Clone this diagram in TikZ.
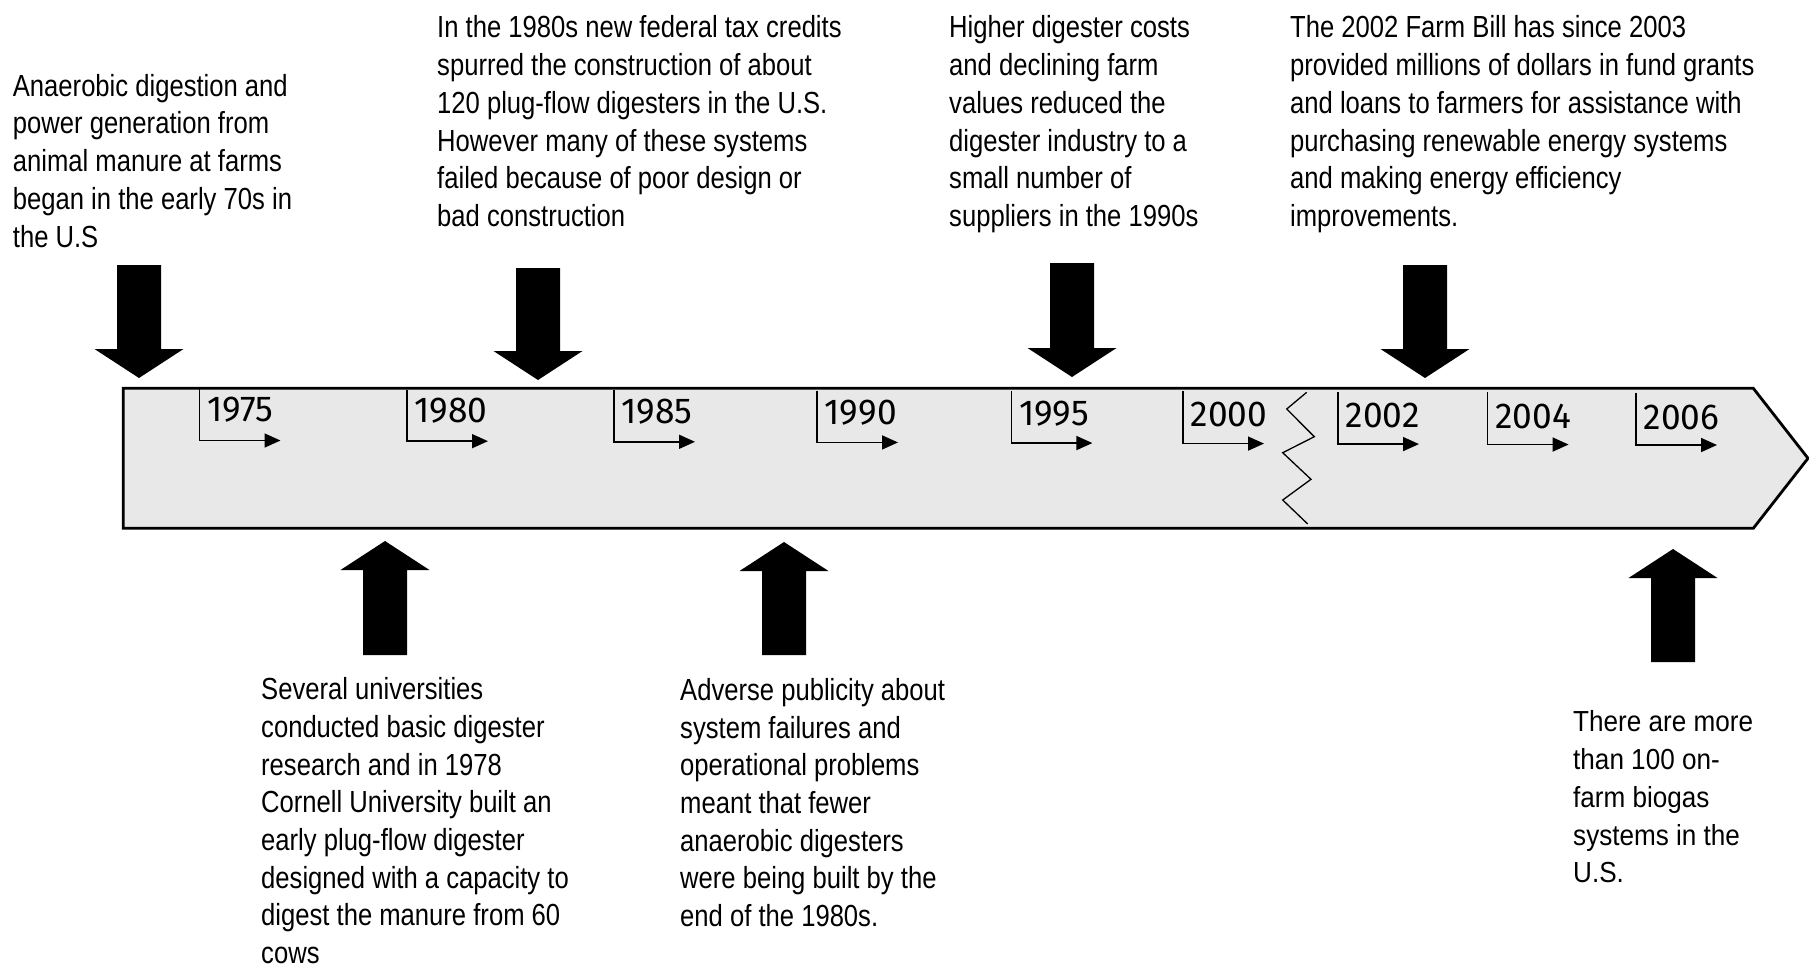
\documentclass[tikz,border=0pt]{standalone}
\usepackage{fontspec}
\setmainfont{Liberation Sans}
\newfontfamily\narrowfont[FakeStretch=0.84]{Liberation Sans}
\newfontfamily\widefont[FakeStretch=0.9]{Liberation Sans}
\newfontfamily\yearfont[FakeStretch=0.98]{Fira Sans}
\usetikzlibrary{arrows.meta}
\definecolor{bandgray}{RGB}{232,232,232}
\newcommand\topstrut{\rule{0pt}{26pt}}
\newcommand\blockarrow[4]{%
  \pgfmathsetmacro\hb{#3+29*sign(#2-#3)}%
  \coordinate (#4-tail) at (#1,#2);
  \coordinate (#4-tip) at (#1,#3);
  \fill[black] (#1-22,#2) -- (#1+22,#2) -- (#1+22,\hb) -- (#1+44.5,\hb) -- (#4-tip) -- (#1-44.5,\hb) -- (#1-22,\hb) -- cycle;
}
\tikzset{
  note/.style={anchor=north west, inner sep=0pt, align=left, font=\narrowfont\fontsize{30.5}{37.7}\selectfont},
  notewide/.style={anchor=north west, inner sep=0pt, align=left, font=\widefont\fontsize{29}{37.7}\selectfont},
  yearlabel/.style={anchor=base west, inner sep=0pt, font=\yearfont\fontsize{36}{40}\selectfont},
  yeararrow/.style={line width=1.6pt, -{Triangle[length=16pt,width=14pt]}},
  band/.style={fill=bandgray, draw=black, line width=2.8pt},
  zig/.style={line width=1.3pt},
}
\begin{document}
\begin{tikzpicture}[x=1pt,y=-1pt]
\useasboundingbox (0,0) rectangle (1809,967);
% timeline band
\draw[band] (123.3,388.3) -- (1753.3,388.3) -- (1808,458.3) -- (1753.3,528.3) -- (123.3,528.3) -- cycle;
% year markers
\foreach \x/\yr [count=\i] in {199.5/1975, 407/1980, 614/1985, 817/1990, 1011.4/1995, 1183/2000, 1338/2002, 1487.6/2004, 1636/2006} {
  \pgfmathsetmacro\t{(\x-199.5)/1436.5}
  \pgfmathsetmacro\ytop{389+3.5*\t}
  \pgfmathsetmacro\yar{440.5+4.5*\t}
  \pgfmathsetmacro\ybase{421.5+7.5*\t}
  \coordinate (top\i) at (\x,\ytop);
  \coordinate (corner\i) at (\x,\yar);
  \coordinate (end\i) at (\x+81,\yar);
  \draw[yeararrow] (top\i) -- (corner\i) -- (end\i);
  \node[yearlabel] (yr\i) at (\x+7.5,\ybase) {\yr};
}
% break mark
\draw[zig] (1306.7,392.3) -- (1286.7,409) -- (1314.3,436.7) -- (1282.7,452.7) -- (1311,479.3) -- (1282.7,500) -- (1307.7,524);
% block arrows
\blockarrow{139}{265}{378}{a1}
\blockarrow{538}{268}{380}{a2}
\blockarrow{1072}{263}{377}{a3}
\blockarrow{1425}{265}{378}{a4}
\blockarrow{385}{655}{541}{a5}
\blockarrow{784}{655}{542}{a6}
\blockarrow{1673}{662}{549}{a7}
% texts
\node[note] (t1) at (12.7,70) {\topstrut Anaerobic digestion and\\ power generation from\\ animal manure at farms\\ began in the early 70s in\\ the U.S};
\node[note] (t2) at (437,11.7) {\topstrut In the 1980s new federal tax credits\\ spurred the construction of about\\ 120 plug-flow digesters in the U.S.\\ However many of these systems\\ failed because of poor design or\\ bad construction};
\node[note] (t3) at (949,11.7) {\topstrut Higher digester costs\\ and declining farm\\ values reduced the\\ digester industry to a\\ small number of\\ suppliers in the 1990s};
\node[note] (t4) at (1290,11.7) {\topstrut The 2002 Farm Bill has since 2003\\ provided millions of dollars in fund grants\\ and loans to farmers for assistance with\\ purchasing renewable energy systems\\ and making energy efficiency\\ improvements.};
\node[note] (t5) at (261,673.5) {\topstrut Several universities\\ conducted basic digester\\ research and in 1978\\ Cornell University built an\\ early plug-flow digester\\ designed with a capacity to\\ digest the manure from 60\\ cows};
\node[note] (t6) at (680,674.2) {\topstrut Adverse publicity about\\ system failures and\\ operational problems\\ meant that fewer\\ anaerobic digesters\\ were being built by the\\ end of the 1980s.};
\node[notewide] (t7) at (1573,705.7) {\topstrut There are more\\ than 100 on-\\ farm biogas\\ systems in the\\ U.S.};
\end{tikzpicture}
\end{document}
